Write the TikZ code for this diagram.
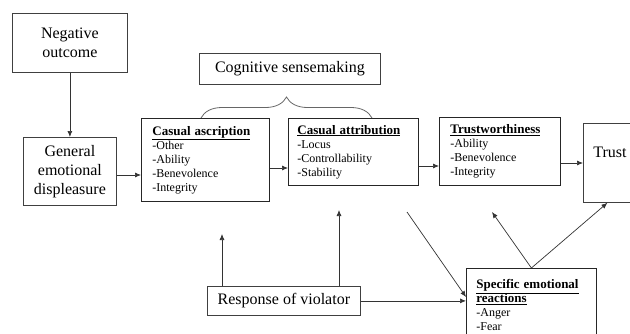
\documentclass[tikz,border=0pt]{standalone}
\usepackage{fontspec}
\setmainfont{Liberation Serif}
\usetikzlibrary{arrows.meta,decorations.pathreplacing}
\tikzset{
	box/.style={draw=black!75, line width=.8pt, inner sep=0pt, align=center, font=\fontsize{16}{19}\selectfont},
	listbox/.style={draw=black!85, line width=.8pt, anchor=north west, inner xsep=11pt, inner ysep=0pt, align=left, font=\fontsize{12}{14}\selectfont},
	arr/.style={draw=black!80, line width=.7pt, -{Latex[length=6pt,width=5pt]}}
}
\newcommand{\boxtitle}[1]{{\fontsize{13}{14}\selectfont\bfseries\underline{#1}}}
\begin{document}
\begin{tikzpicture}[x=1pt, y=-1pt]
		\useasboundingbox (0,0) rectangle (630,333);
		% left column
		\node[box, anchor=north west, minimum width=115pt, minimum height=59pt] (neg) at (12,13) {Negative\\outcome};
		\node[box, anchor=north west, minimum width=93pt, minimum height=68pt] (gen) at (23,137) {General\\emotional\\displeasure};
		\node[box, anchor=north west, minimum width=181pt, minimum height=31pt] (cog) at (199,53) {Cognitive sensemaking};
		% boxes with lists
		\node[listbox, text width=106pt, minimum height=83pt] (ascr) at (141,118) {\boxtitle{Casual ascription}\\-Other\\-Ability\\-Benevolence\\-Integrity};
		\node[listbox, text width=112pt, inner xsep=9pt, minimum height=67pt] (attr) at (288,118) {\boxtitle{Casual attribution}\\-Locus\\-Controllability\\-Stability};
		\node[listbox, text width=99pt, minimum height=68pt] (tw) at (439,117) {\boxtitle{Trustworthiness}\\-Ability\\-Benevolence\\-Integrity};
		\node[box, anchor=north west, inner xsep=10pt, text width=40pt, align=left, text height=34pt, text depth=45pt] (trust) at (583,123) {Trust};
		\node[box, anchor=north west, minimum width=153pt, minimum height=29pt] (resp) at (207,286) {Response of violator};
		\node[listbox, text width=110pt, inner xsep=10pt, minimum height=74pt] (spec) at (466,268) {\boxtitle{Specific emotional}\\\boxtitle{reactions}\\-Anger\\-Fear};
		% brace
		\draw[black!60, line width=.8pt, decorate, decoration={brace, amplitude=21pt}] (201,118) -- (372,118);
		% arrows
		\coordinate (up1) at (222,234);
		\coordinate (up2) at (339,210);
		\coordinate (dg) at (407,212);
		\coordinate (up3) at (492,212);
		\draw[arr] (neg) -- (gen);
		\foreach \a/\b/\y in {gen/ascr/175, ascr/attr/168, attr/tw/166, tw/trust/163}{
			\draw[arr] (\a.east |- 0,\y) -- (\b.west |- 0,\y);}
		\draw[arr] (resp.north -| up1) -- (up1);
		\draw[arr] (resp.north -| up2) -- (up2);
		\draw[arr] (resp.east) -- (resp.east -| spec.west);
		\draw[arr] (dg) -- (spec.west |- 0,297);
		\draw[arr] (spec.north) -- (up3);
		\draw[arr] (spec.north) -- ([xshift=-6pt]trust.south);
\end{tikzpicture}
\end{document}
